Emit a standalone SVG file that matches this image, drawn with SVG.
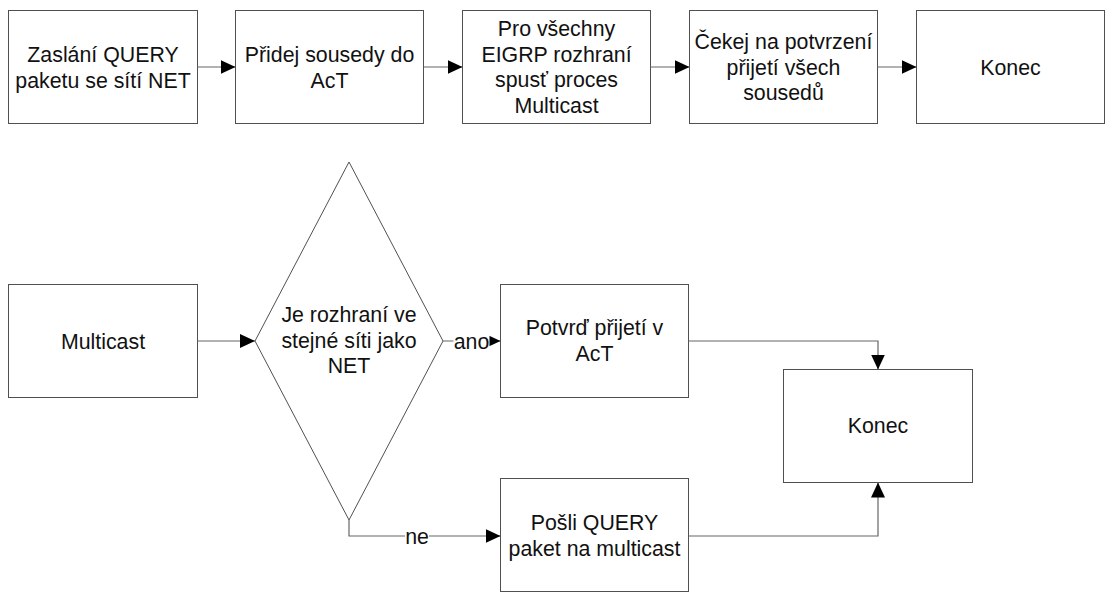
<svg xmlns="http://www.w3.org/2000/svg" width="1105" height="592" viewBox="0 0 1105 592">
<style>
.box{fill:#fff;stroke:#505050;stroke-width:1}
.lbl{font-family:"Liberation Sans",Arial,sans-serif;font-size:21.33px;fill:#111;text-anchor:middle}
.con{fill:none;stroke:#666;stroke-width:1.2}
</style>
<defs>
<marker id="ah" markerUnits="userSpaceOnUse" markerWidth="15" markerHeight="14" refX="15" refY="7" orient="auto">
<path d="M0,0 L15,7 L0,14 z" fill="#000"/>
</marker>
</defs>
<rect width="1105" height="592" fill="#fff"/>
<g id="n1"><rect class="box" x="8.5" y="10.5" width="189" height="113"/>
<text class="lbl" x="103" y="62">Zaslání QUERY</text><text class="lbl" x="103" y="87.5">paketu se sítí NET</text></g>
<g id="n2"><rect class="box" x="235.5" y="10.5" width="188" height="113"/>
<text class="lbl" x="329.5" y="62">Přidej sousedy do</text><text class="lbl" x="329.5" y="87.5">AcT</text></g>
<g id="n3"><rect class="box" x="462.5" y="10.5" width="188" height="113"/>
<text class="lbl" x="556.5" y="36">Pro všechny</text><text class="lbl" x="556.5" y="61.5">EIGRP rozhraní</text><text class="lbl" x="556.5" y="87">spusť proces</text><text class="lbl" x="556.5" y="112.5">Multicast</text></g>
<g id="n4"><rect class="box" x="689.5" y="10.5" width="188" height="113"/>
<text class="lbl" x="783.5" y="49">Čekej na potvrzení</text><text class="lbl" x="783.5" y="74.6">přijetí všech</text><text class="lbl" x="783.5" y="100.2">sousedů</text></g>
<g id="n5"><rect class="box" x="916.5" y="10.5" width="188" height="113"/>
<text class="lbl" x="1010.5" y="74.6">Konec</text></g>
<g id="n6"><rect class="box" x="8.5" y="284.5" width="189" height="113"/>
<text class="lbl" x="103" y="348.6">Multicast</text></g>
<g id="n7"><polygon class="box" points="349,162 443,341 349,520 255,341"/>
<text class="lbl" x="349" y="322">Je rozhraní ve</text><text class="lbl" x="349" y="347.5">stejné síti jako</text><text class="lbl" x="349" y="373">NET</text></g>
<g id="n8"><rect class="box" x="500.5" y="284.5" width="188" height="113"/>
<text class="lbl" x="594.5" y="335.3">Potvrď přijetí v</text><text class="lbl" x="594.5" y="360.9">AcT</text></g>
<g id="n9"><rect class="box" x="500.5" y="478.5" width="188" height="113"/>
<text class="lbl" x="594.5" y="530">Pošli QUERY</text><text class="lbl" x="594.5" y="555.5">paket na multicast</text></g>
<g id="n10"><rect class="box" x="783.5" y="369.5" width="189" height="113"/>
<text class="lbl" x="878" y="433">Konec</text></g>
<g id="connectors">
<path class="con" d="M197.5,67 H235.5" marker-end="url(#ah)"/>
<path class="con" d="M423.5,67 H462.5" marker-end="url(#ah)"/>
<path class="con" d="M650.5,67 H689.5" marker-end="url(#ah)"/>
<path class="con" d="M877.5,67 H916.5" marker-end="url(#ah)"/>
<path class="con" d="M197.5,341 H255" marker-end="url(#ah)"/>
<path class="con" d="M443,341 H500.5" marker-end="url(#ah)"/>
<rect x="453.5" y="330" width="36" height="22" fill="#fff"/>
<text class="lbl" x="471.5" y="348.6">ano</text>
<path class="con" d="M349,520 V536 H500.5" marker-end="url(#ah)"/>
<rect x="405" y="525" width="24" height="22" fill="#fff"/>
<text class="lbl" x="417" y="543.6">ne</text>
<path class="con" d="M688.5,341 H878 V369.5" marker-end="url(#ah)"/>
<path class="con" d="M688.5,536 H878 V482.5" marker-end="url(#ah)"/>
</g>
</svg>
